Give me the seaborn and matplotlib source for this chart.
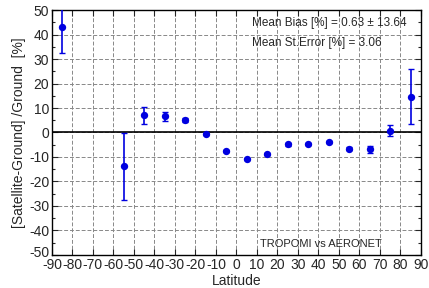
import matplotlib
matplotlib.use("Agg")
import matplotlib.pyplot as plt
import matplotlib.transforms as mtransforms
import seaborn as sns
import pandas as pd
import numpy as np

latitude = [-85, -55, -45, -35, -25, -15, -5, 5, 15, 25, 35, 45, 55, 65, 75, 85]
bias = [43.2, -13.8, 7.1, 6.6, 5.1, -0.7, -7.4, -10.7, -8.9, -4.9, -4.8, -3.9, -6.6, -6.9, 0.7, 14.6]
err = [10.7, 13.6, 3.5, 1.8, 0.8, 0.3, 0.4, 0.4, 0.5, 0.5, 0.4, 0.4, 0.5, 1.5, 2.2, 11.2]

xticks = list(range(-90, 91, 10))
yticks = list(range(-50, 51, 10))

sns.set_style("ticks")
plt.rcParams['font.family'] = ['Liberation Sans', 'DejaVu Sans']
plt.rcParams['axes.unicode_minus'] = False

df = pd.DataFrame({"lat": latitude, "bias": bias, "err": err})

fig = plt.figure(figsize=(4.29, 2.88), dpi=100)
ax = fig.add_axes([0.121, 0.115, 0.860, 0.850])

ax.errorbar(df["lat"], df["bias"], yerr=df["err"], fmt='none', ecolor='#0000e0',
            elinewidth=1.2, capsize=2.5, capthick=1.0, zorder=3)
sns.scatterplot(data=df, x="lat", y="bias", ax=ax, color='#0000e0', s=28,
                edgecolor='#0000e0', linewidth=0, zorder=4)

ax.axhline(0, color='black', lw=1.2, zorder=2)

ax.set_xlim(-90, 90)
ax.set_ylim(-50, 50)
ax.set_xticks(xticks)
ax.set_yticks(yticks)
ax.set_yticks(list(range(-45, 50, 10)), minor=True)
ax.grid(True, which='major', color='#888888', linestyle=(0, (4, 2)), lw=0.7)
ax.tick_params(which='both', direction='in', top=True, right=True, labelsize=10,
               length=4, width=0.8, pad=2)
ax.tick_params(which='minor', length=2.5)
for s in ax.spines.values():
    s.set_linewidth(1.0)
    s.set_color('black')

# nudge the lowest y label up a little so it clears the -90 label
fig.canvas.draw()
lbl = ax.get_yticklabels()[0]
lbl.set_transform(lbl.get_transform() + mtransforms.ScaledTranslation(0, 3/100, fig.dpi_scale_trans))

ax.set_xlabel("Latitude", fontsize=10, labelpad=1.5)
ax.set_ylabel("[Satellite-Ground] /Ground  [%]", fontsize=10, labelpad=2)

ax.text(0.542, 0.947, "Mean Bias [%] = 0.63 \u00b1 13.64", transform=ax.transAxes,
        ha='left', va='center', fontsize=8.5)
ax.text(0.542, 0.865, "Mean St.Error [%] = 3.06", transform=ax.transAxes,
        ha='left', va='center', fontsize=8.5)
ax.text(0.728, 0.045, "TROPOMI vs AERONET", transform=ax.transAxes,
        ha='center', va='center', fontsize=8)

fig.savefig("out.png", dpi=100)
